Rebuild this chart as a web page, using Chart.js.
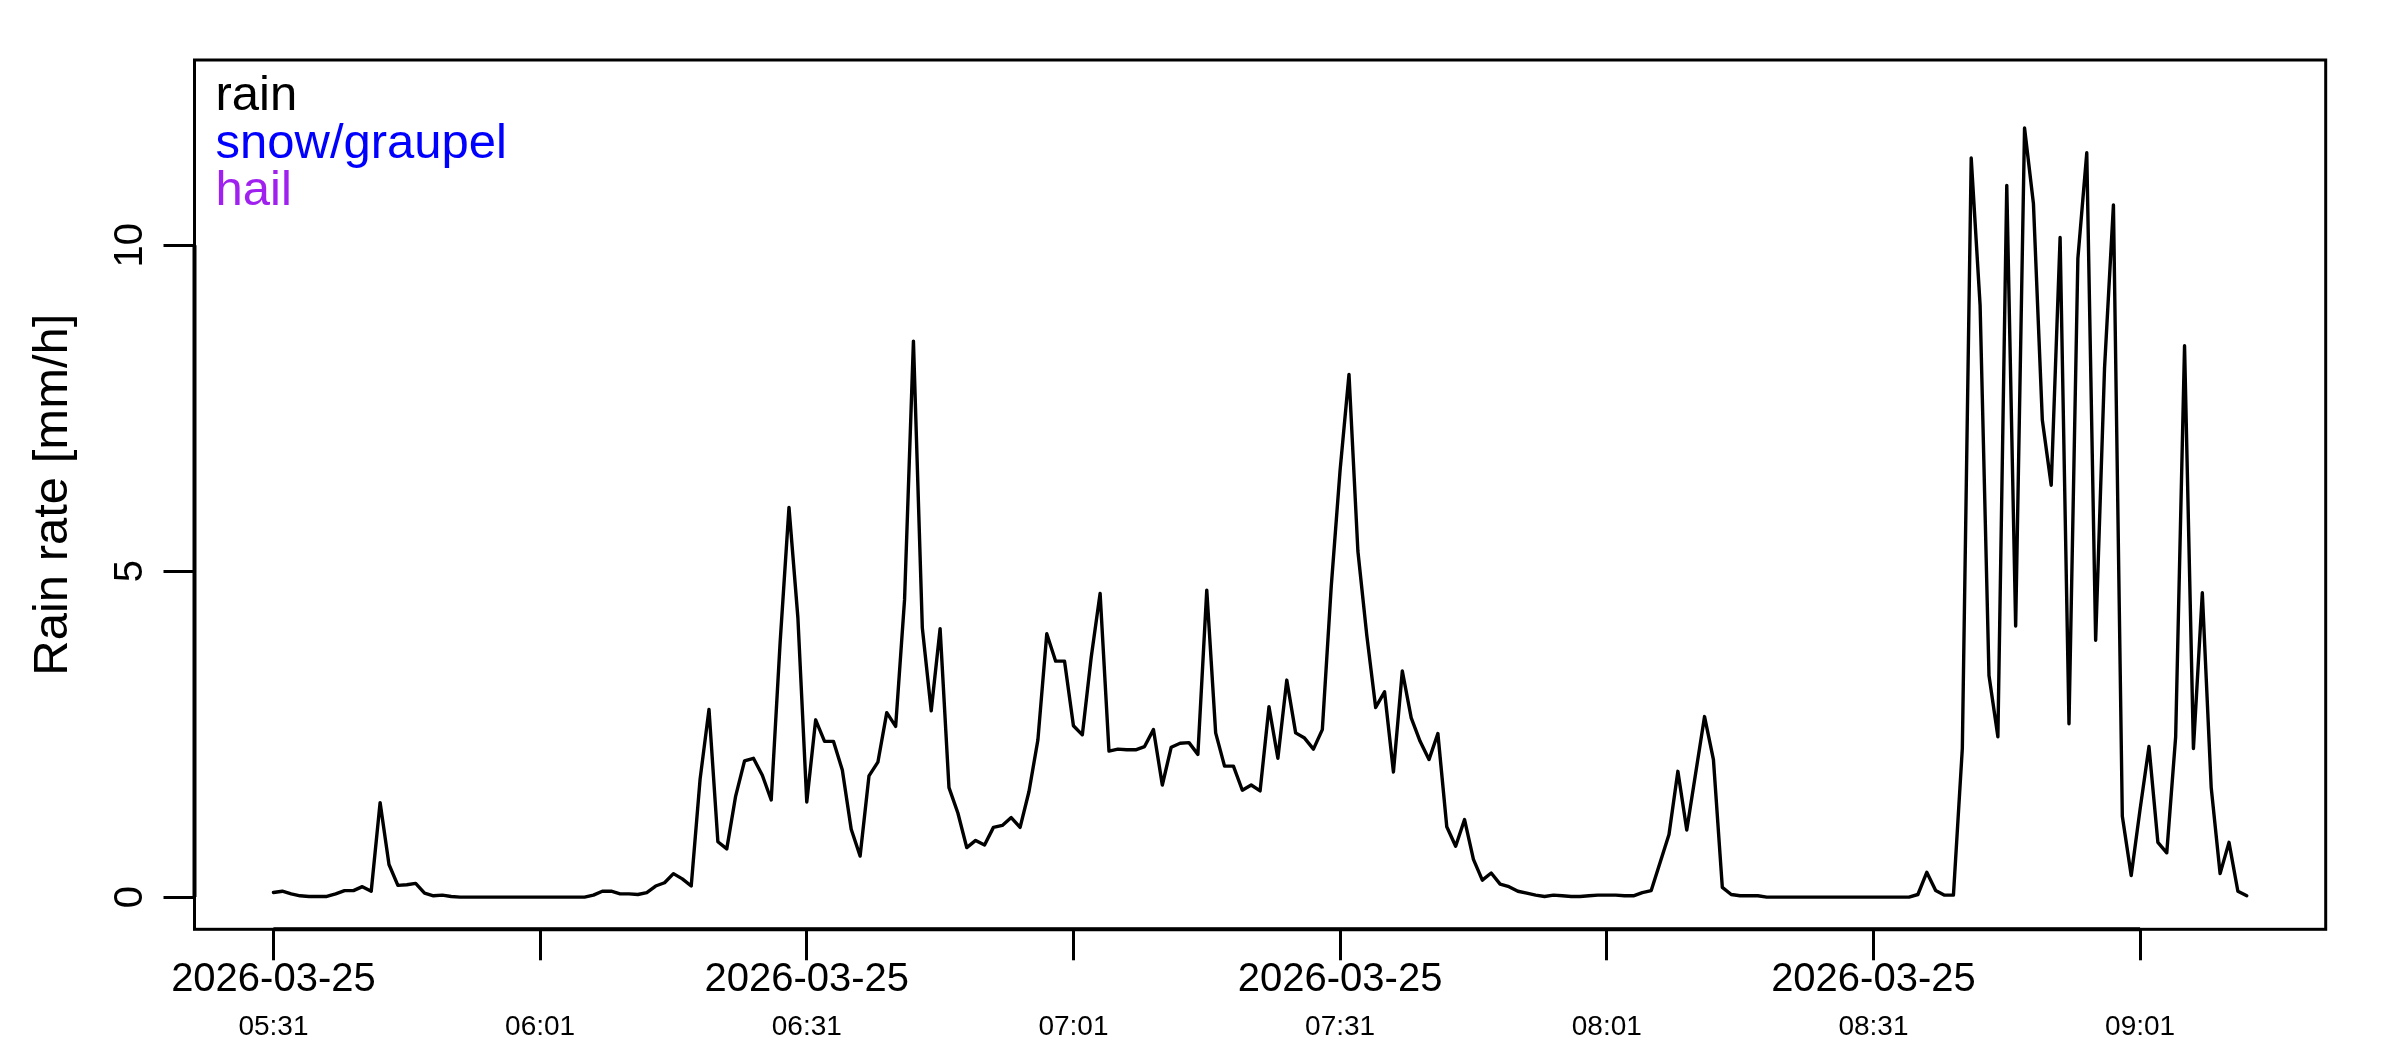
<!DOCTYPE html>
<html>
<head>
<meta charset="utf-8">
<title>Rain rate</title>
<script src="https://cdn.jsdelivr.net/npm/chart.js@4.4.1/dist/chart.umd.min.js"></script>
<style>
html, body { margin: 0; padding: 0; background: #fff; }
#wrap { width: 2400px; height: 1050px; }
</style>
</head>
<body>
<div id="wrap"><canvas id="grafico"></canvas></div>
<script>
/* DATA: one value per minute, starting 2026-03-25 05:31 */
const rainRate = [
  0.07, 0.09, 0.05, 0.02, 0.01, 0.01, 0.01, 0.05, 0.10, 0.10,
  0.16, 0.09, 1.45, 0.50, 0.18, 0.19, 0.21, 0.06, 0.02, 0.03,
  0.01, 0, 0, 0, 0, 0, 0, 0, 0, 0,
  0, 0, 0, 0, 0, 0, 0.03, 0.09, 0.09, 0.05,
  0.05, 0.04, 0.07, 0.17, 0.22, 0.36, 0.28, 0.17, 1.81, 2.88,
  0.85, 0.74, 1.55, 2.09, 2.13, 1.87, 1.49, 3.90, 5.98, 4.29,
  1.46, 2.72, 2.39, 2.39, 1.95, 1.04, 0.63, 1.86, 2.07, 2.83,
  2.62, 4.56, 8.53, 4.13, 2.86, 4.12, 1.68, 1.29, 0.76, 0.87,
  0.80, 1.07, 1.10, 1.22, 1.07, 1.62, 2.41, 4.04, 3.62, 3.62,
  2.63, 2.49, 3.68, 4.66, 2.24, 2.27, 2.26, 2.26, 2.31, 2.57,
  1.72, 2.30, 2.36, 2.37, 2.19, 4.71, 2.52, 2.01, 2.01, 1.64,
  1.72, 1.63, 2.92, 2.13, 3.33, 2.52, 2.44, 2.27, 2.57, 4.76,
  6.55, 8.02, 5.31, 4.02, 2.91, 3.15, 1.92, 3.47, 2.75, 2.39,
  2.11, 2.51, 1.08, 0.78, 1.19, 0.58, 0.26, 0.37, 0.20, 0.16,
  0.09, 0.06, 0.03, 0.01, 0.03, 0.02, 0.01, 0.01, 0.02, 0.03,
  0.03, 0.03, 0.02, 0.02, 0.07, 0.10, 0.53, 0.96, 1.93, 1.03,
  1.90, 2.77, 2.11, 0.15, 0.04, 0.02, 0.02, 0.02, 0, 0,
  0, 0, 0, 0, 0, 0, 0, 0, 0, 0,
  0, 0, 0, 0, 0, 0.04, 0.38, 0.10, 0.03, 0.03,
  2.28, 11.34, 9.08, 3.40, 2.46, 10.92, 4.16, 11.80, 10.64, 7.32,
  6.32, 10.12, 2.66, 9.80, 11.42, 3.94, 8.12, 10.62, 1.24, 0.33,
  1.35, 2.31, 0.84, 0.68, 2.46, 8.46, 2.28, 4.67, 1.68, 0.36,
  0.84, 0.09, 0.02
];
const snowRate = [];
const hailRate = [];

const seriesNames = ['rain', 'snow/graupel', 'hail'];
const seriesColors = ['#000000', '#0000FF', '#A020F0'];

/* TICKS (minutes after 05:31) */
const tickMinutes = [0, 30, 60, 90, 120, 150, 180, 210];
const dateLabels = ['2026-03-25', '', '2026-03-25', '', '2026-03-25', '', '2026-03-25', ''];
const timeLabels = ['05:31', '06:01', '06:31', '07:01', '07:31', '08:01', '08:31', '09:01'];
const yTicks = [0, 5, 10];

const toPoints = arr => arr.map((v, i) => ({x: i, y: v}));
const seriesData = [rainRate, snowRate, hailRate];

/* box round the plot, axis line between outer ticks, coloured legend text */
const boxAndLegend = {
  id: 'boxAndLegend',
  afterDraw(chart) {
    const {ctx, chartArea: a} = chart;
    const sx = chart.scales.x, sy = chart.scales.y;
    ctx.save();
    ctx.strokeStyle = '#000';
    ctx.lineWidth = 3;
    ctx.strokeRect(a.left, a.top, a.right - a.left, a.bottom - a.top);
    ctx.lineWidth = 4;
    ctx.beginPath();
    ctx.moveTo(sx.getPixelForValue(tickMinutes[0]), a.bottom);
    ctx.lineTo(sx.getPixelForValue(tickMinutes[tickMinutes.length - 1]), a.bottom);
    ctx.moveTo(a.left, sy.getPixelForValue(yTicks[0]));
    ctx.lineTo(a.left, sy.getPixelForValue(yTicks[yTicks.length - 1]));
    ctx.stroke();
    ctx.font = '49px "Liberation Sans"';
    ctx.textAlign = 'left';
    ctx.textBaseline = 'alphabetic';
    chart.data.datasets.forEach((ds, i) => {
      ctx.fillStyle = ds.borderColor;
      ctx.fillText(ds.label, a.left + 21, a.top + 50 + i * 47.5);
    });
    ctx.restore();
  }
};

const xMin = -8.88, xMax = 230.88;
const fixTicks = list => s => { s.ticks = list.map(v => ({value: v})); };

new Chart(document.getElementById('grafico'), {
  type: 'line',
  data: {
    datasets: seriesNames.map((name, i) => ({
      label: name,
      data: toPoints(seriesData[i]),
      borderColor: seriesColors[i],
      backgroundColor: seriesColors[i],
      borderWidth: 3.4,
      borderJoinStyle: 'round',
      borderCapStyle: 'round',
      pointRadius: 0,
      tension: 0,
      fill: false,
      xAxisID: 'x',
      yAxisID: 'y'
    }))
  },
  options: {
    responsive: true,
    maintainAspectRatio: false,
    devicePixelRatio: 1,
    animation: false,
    events: [],
    layout: {padding: {top: 60, right: 74.3, left: 0, bottom: 0}},
    plugins: {legend: {display: false}, tooltip: {enabled: false}},
    scales: {
      x: {
        type: 'linear', position: 'bottom', weight: 0, min: xMin, max: xMax,
        afterBuildTicks: fixTicks(tickMinutes),
        afterFit: s => { s.height = 80; },
        grid: {drawOnChartArea: false, drawTicks: true, tickLength: 31, color: '#000', lineWidth: 3},
        border: {display: false},
        ticks: {
          autoSkip: false, minRotation: 0, maxRotation: 0, padding: 0, color: '#000',
          font: {family: 'Liberation Sans', size: 40, lineHeight: 1},
          callback: (v, i) => dateLabels[i]
        }
      },
      xt: {
        type: 'linear', position: 'bottom', weight: 1, min: xMin, max: xMax,
        afterBuildTicks: fixTicks(tickMinutes),
        afterFit: s => { s.height = 40.7; },
        grid: {display: false, drawTicks: false},
        border: {display: false},
        ticks: {
          autoSkip: false, minRotation: 0, maxRotation: 0, padding: 0, color: '#000',
          font: {family: 'Liberation Sans', size: 28, lineHeight: 1.3},
          callback: (v, i) => timeLabels[i]
        }
      },
      y: {
        type: 'linear', position: 'left', min: -0.494, max: 12.844,
        afterBuildTicks: fixTicks(yTicks),
        afterFit: s => { s.width = 194.5; },
        grid: {drawOnChartArea: false, drawTicks: true, tickLength: 31, color: '#000', lineWidth: 3},
        border: {display: false},
        ticks: {
          minRotation: 90, maxRotation: 90, crossAlign: 'center', padding: 10, color: '#000',
          font: {family: 'Liberation Sans', size: 40},
          callback: v => String(v)
        },
        title: {
          display: true, text: 'Rain rate [mm/h]', color: '#000',
          font: {family: 'Liberation Sans', size: 49, lineHeight: 1.2},
          padding: {top: 24, bottom: 0}
        }
      }
    }
  },
  plugins: [boxAndLegend]
});
</script>
</body>
</html>
